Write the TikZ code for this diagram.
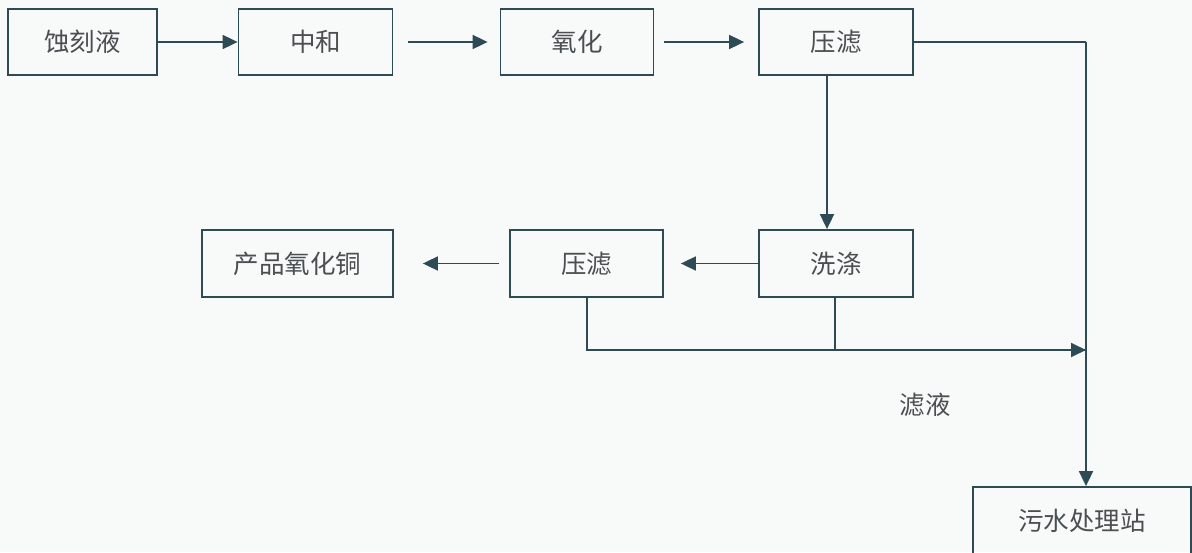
\documentclass[tikz,border=0pt]{standalone}
\usepackage{fontspec}
\setmainfont{Noto Sans CJK SC}
\usetikzlibrary{arrows.meta}
\definecolor{ln}{HTML}{2E4A55}
\definecolor{tx}{HTML}{4A4F52}
\definecolor{bg}{HTML}{F8F9F9}
\tikzset{
  box/.style={draw=ln, line width=1.8pt, minimum height=66pt, inner sep=0pt, text=tx, font=\fontsize{25.5}{28}\selectfont},
  flow/.style={draw=ln, line width=1.8pt, -{Triangle[length=15pt,width=14pt]}},
  wire/.style={draw=ln, line width=1.8pt},
}
\begin{document}
\begin{tikzpicture}[x=1pt,y=-1pt]
\fill[bg] (0,0) rectangle (1192,552);
\useasboundingbox (0,0) rectangle (1192,552);
\clip (0,0) rectangle (1192,552);
\node[box, minimum width=149pt] (a) at (82.5,42) {蚀刻液};
\node[box, minimum width=154pt] (b) at (315.5,42) {中和};
\node[box, minimum width=153pt] (c) at (577,42) {氧化};
\node[box, minimum width=154pt] (d) at (836,42) {压滤};
\node[box, minimum width=154pt, minimum height=67pt] (e) at (836,263.5) {洗涤};
\node[box, minimum width=153pt, minimum height=67pt] (f) at (586.5,263.5) {压滤};
\node[box, minimum width=191pt, minimum height=67pt] (g) at (297.5,263.5) {产品氧化铜};
\node[box, minimum width=218pt, minimum height=68pt] (h) at (1082,521) {污水处理站};
\node[text=tx, font=\fontsize{25.5}{28}\selectfont] (lbl) at (925,405) {滤液};
\coordinate (cr) at (1086,42);
\coordinate (j) at (1086,350);
\coordinate (fj) at (587,350);
\coordinate (ej) at (835,350);
\draw[flow] (a.east) -- (b.west);
\draw[flow] ([xshift=15pt]b.east) -- ([xshift=-12pt]c.west);
\draw[flow] ([xshift=10pt]c.east) -- ([xshift=-14pt]d.west);
\draw[wire] (d.east) -- (cr);
\draw[flow] (cr) -- (h.north -| cr);
\draw[flow] (d.south -| 827,0) -- (e.north -| 827,0);
\draw[flow] (e.west) -- ([xshift=17pt]f.east);
\draw[flow] ([xshift=-10pt]f.west) -- ([xshift=29pt]g.east);
\draw[wire] (f.south -| fj) -- (fj) -- (j);
\draw[wire] (e.south -| ej) -- (ej);
\draw[flow] (ej) -- (j);
\end{tikzpicture}
\end{document}
